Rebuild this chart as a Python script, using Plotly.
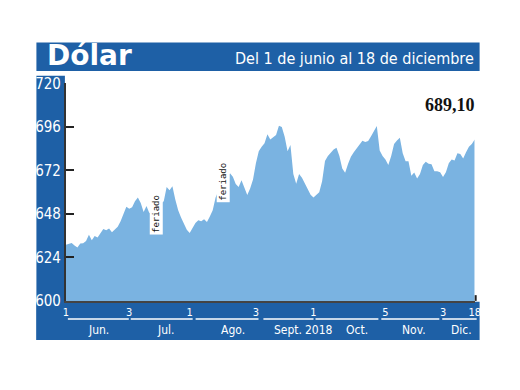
import plotly.graph_objects as go
import pandas as pd

# ---------------- data ----------------
dates = pd.bdate_range("2018-06-01", "2018-12-18")
values = [
    631.0, 631.5, 632.0, 630.5, 629.5, 631.6, 631.8, 633.0, 636.5, 633.5,
    635.8, 635.0, 637.5, 639.6, 639.0, 640.0, 637.9, 639.5, 640.9, 644.0,
    648.0, 652.0, 650.8, 651.7, 655.0, 657.0, 654.0, 649.0, 652.3, 648.4,
    650.5, 651.0, 653.5, 653.7, 655.0, 662.8, 661.0, 663.3, 656.0, 650.0,
    646.0, 642.5, 639.3, 637.5, 640.0, 643.0, 644.5, 644.0, 645.0, 643.5,
    646.5, 650.0, 657.0, 661.0, 664.6, 665.0, 668.5, 670.4, 668.5, 664.5,
    662.8, 666.5, 662.0, 658.4, 662.0, 667.0, 676.0, 682.5, 685.0, 687.0,
    692.0, 689.0, 690.3, 691.5, 696.7, 696.0, 690.5, 682.5, 686.0, 670.0,
    664.6, 670.0, 668.0, 664.5, 661.5, 658.5, 657.0, 658.3, 660.0, 666.0,
    677.2, 680.0, 681.8, 683.5, 684.5, 680.0, 673.0, 670.7, 675.5, 679.5,
    682.0, 684.0, 686.0, 688.3, 687.6, 688.2, 690.8, 693.5, 696.5, 683.0,
    680.0, 678.0, 675.0, 680.0, 686.5, 688.5, 690.0, 681.5, 677.0, 677.0,
    669.0, 670.8, 667.5, 670.0, 675.0, 676.8, 675.6, 675.4, 671.5, 671.5,
    671.0, 668.3, 671.0, 676.0, 678.0, 677.5, 681.5, 681.0, 678.5, 682.0,
    685.0, 686.5, 689.1,
]
values = values[:len(dates)]

tick_dates = ["2018-06-01", "2018-07-03", "2018-08-01", "2018-09-03",
              "2018-10-01", "2018-11-05", "2018-12-03", "2018-12-18"]
tick_labels = ["1", "3", "1", "3", "1", "5", "3", "18"]
y_ticks = [600, 624, 648, 672, 696, 720]

month_labels = ["Jun.", "Jul.", "Ago.", "Sept.", "2018", "Oct.", "Nov.", "Dic."]
feriado_dates = ["2018-07-16", "2018-08-15"]
last_value_label = "689,10"
title = "Dólar"
subtitle = "Del 1 de junio al 18 de diciembre"

# ---------------- style ----------------
W, H = 520, 390
BLUE = "#1e60a6"
AREA = "#7ab3e1"
COND = "DejaVu Sans Condensed, Liberation Sans Narrow, sans-serif"


def X(px):
    return px / W


def Y(py):
    return 1 - py / H


fig = go.Figure()
fig.add_trace(go.Scatter(
    x=dates, y=values, mode="lines",
    line=dict(width=0, color=AREA),
    fill="tozeroy", fillcolor=AREA,
    hoverinfo="skip", showlegend=False,
))

shapes = [
    dict(type="rect", xref="paper", yref="paper", x0=X(34), x1=X(485), y0=Y(65), y1=Y(35),
         fillcolor=BLUE, line=dict(width=0), layer="below"),
    dict(type="rect", xref="paper", yref="paper", x0=X(34), x1=X(63), y0=Y(347), y1=Y(70),
         fillcolor=BLUE, line=dict(width=0), layer="below"),
    dict(type="rect", xref="paper", yref="paper", x0=X(34), x1=X(485), y0=Y(347), y1=Y(307),
         fillcolor=BLUE, line=dict(width=0), layer="below"),
    dict(type="line", xref="paper", yref="paper", x0=X(481), x1=X(481), y0=Y(306), y1=Y(300),
         line=dict(color="#222", width=2)),
]
segs = [(66, 128), (130, 193), (196, 260), (265, 316), (318, 382), (385, 444), (447, 482)]
for a, b in segs:
    shapes.append(dict(type="line", xref="paper", yref="paper", x0=X(a), x1=X(b),
                       y0=Y(325), y1=Y(325), line=dict(color="white", width=1.5)))

annotations = [
    dict(text=title, xref="paper", yref="paper", x=X(43), y=Y(49), xanchor="left",
         yanchor="middle", showarrow=False,
         font=dict(family="DejaVu Sans, sans-serif", size=28, color="white", weight="bold")),
    dict(text=subtitle, xref="paper", yref="paper", x=X(481), y=Y(52), xanchor="right",
         yanchor="middle", showarrow=False,
         font=dict(family=COND, size=16, color="white")),
    dict(text=last_value_label, xref="paper", yref="paper", x=X(455), y=Y(101),
         xanchor="center", yanchor="middle", showarrow=False,
         font=dict(family="Liberation Serif, serif", size=18, color="#111", weight="bold")),
]
month_x = [97, 165, 234, 290, 322, 360, 418, 467]
for lbl, px in zip(month_labels, month_x):
    annotations.append(dict(text=lbl, xref="paper", yref="paper", x=X(px), y=Y(337),
                            xanchor="center", yanchor="middle", showarrow=False,
                            font=dict(family=COND, size=12, color="white")))
for d, yv, xs in zip(feriado_dates, [648, 666], [1, 5]):
    annotations.append(dict(text="feriado", x=d, y=yv, xref="x", yref="y", showarrow=False,
                            textangle=-90, xshift=xs, bgcolor="white", borderpad=1,
                            font=dict(family="DejaVu Sans Mono, monospace", size=9, color="#111")))

fig.update_layout(
    width=W, height=H, autosize=False,
    margin=dict(l=0, r=0, t=0, b=0),
    paper_bgcolor="white", plot_bgcolor="white",
    shapes=shapes, annotations=annotations,
    xaxis=dict(
        domain=[X(64), X(480)], type="date",
        range=[dates[0], dates[-1]],
        rangebreaks=[dict(bounds=["sat", "mon"])],
        tickvals=tick_dates, ticktext=tick_labels,
        showline=True, linecolor="#444", linewidth=2,
        ticks="", showgrid=False, zeroline=False,
        tickfont=dict(family=COND, size=11, color="white"),
    ),
    yaxis=dict(
        domain=[Y(306), Y(78)], range=[600, 720],
        tickvals=y_ticks, ticks="inside", ticklen=8, tickwidth=2, tickcolor="#222",
        showline=True, linecolor="#333", linewidth=2,
        showgrid=False, zeroline=False,
        tickfont=dict(family=COND, size=15, color="white"),
    ),
)

post = (
    "var d=document.documentElement,b=document.body;"
    "d.style.margin='0';d.style.overflow='hidden';d.style.height='390px';"
    "b.style.margin='0';b.style.overflow='hidden';b.style.height='390px';"
    "var g=document.getElementById('{plot_id}');"
    "g.style.display='block';"
    "if(g.parentElement){g.parentElement.style.lineHeight='0';"
    "g.parentElement.style.fontSize='0';g.parentElement.style.height='390px';}"
)

fig.write_html(
    "out.html",
    config={"displayModeBar": False, "staticPlot": True},
    post_script=post,
)
